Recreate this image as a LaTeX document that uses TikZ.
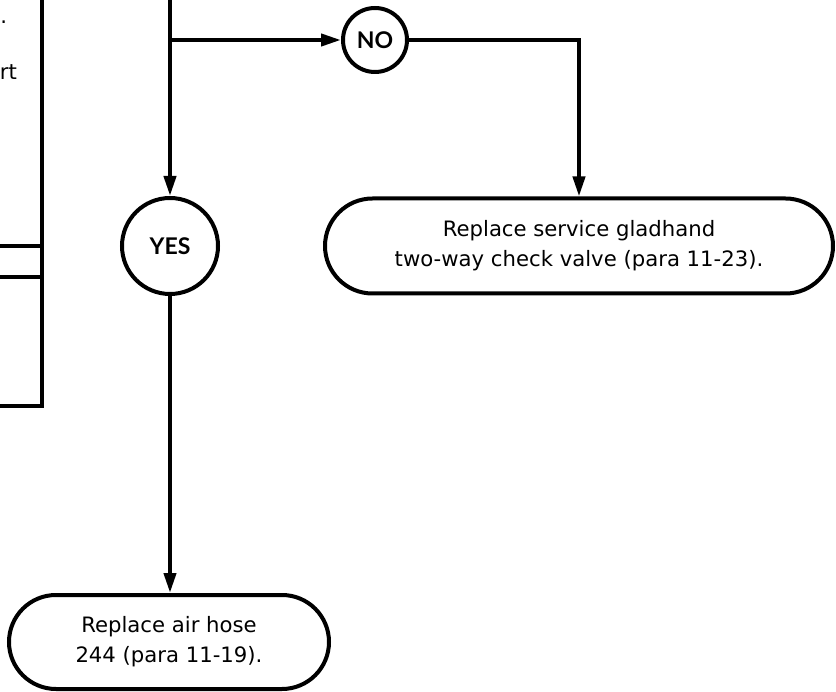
\documentclass[tikz,border=0pt]{standalone}
\usepackage{fontspec}
\setmainfont{DejaVu Sans}
\newfontfamily\answerfont{Lato}
\usetikzlibrary{arrows.meta, positioning, shapes.misc}

\begin{document}
\begin{tikzpicture}[
    x=1pt, y=-1pt,
    line width=4pt,
    answer/.style={circle, draw=black, fill=white, inner sep=0pt, font=\answerfont\bfseries\fontsize{23}{23}\selectfont},
    action/.style={rounded rectangle, draw=black, fill=white, align=center, inner sep=0pt, font=\fontsize{21.2}{30}\selectfont},
    flow/.style={-{Triangle[length=20pt, width=12pt]}}
]
\useasboundingbox (0,0) rectangle (836,692);

% tail of the previous step, running off the left edge
\draw (-10,-10) -- (42,-10) -- (42,406) -- (-10,406);
\draw (-10,246) -- (42,246);
\draw (-10,277) -- (42,277);
\node[anchor=base east, inner sep=0pt, font=\fontsize{21.2}{30}\selectfont] (prevA) at (9,24) {t.};
\node[anchor=base east, inner sep=0pt, font=\fontsize{21.2}{30}\selectfont] (prevB) at (19,80) {ort};

\node[answer, minimum size=96pt] (yes) at (170,246) {YES};
\node[answer, minimum size=64pt] (no) at (375,40) {NO};
\node[action, minimum width=508pt, minimum height=95pt] (gladhand) at (579,246)
    {Replace service gladhand\\two-way check valve (para 11-23).};
\node[action, minimum width=320pt, minimum height=94pt] (hose) at (169,642)
    {Replace air hose\\244 (para 11-19).};

\coordinate (top) at (170,-10);
\coordinate (split) at (170,40);

\draw[flow] (top) -- (yes);
\draw[flow] (split) -- (no);
\draw[flow] (no) -| (gladhand);
\draw[flow] (yes) -- (yes |- hose.north);
\end{tikzpicture}
\end{document}
